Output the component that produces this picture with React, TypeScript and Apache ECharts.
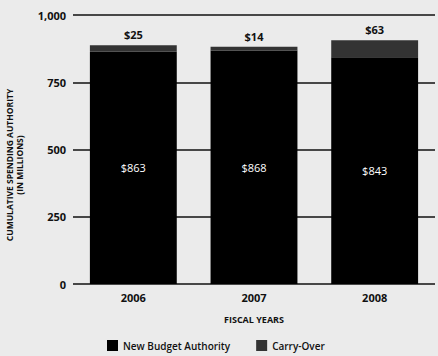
import React, { useEffect, useRef } from "react";
import * as echarts from "echarts";

const years = ["2006", "2007", "2008"];
const newBudget = [863, 868, 843];
const carryOver = [25, 14, 63];
const yTicks = [0, 250, 500, 750, 1000];

const FONT = "'Open Sans', 'Noto Sans', sans-serif";

export default function App() {
  const ref = useRef<HTMLDivElement>(null);
  useEffect(() => {
    if (!ref.current) return;
    const chart = echarts.init(ref.current, undefined, { renderer: "svg" });
    chart.setOption({
      animation: false,
      backgroundColor: "#ebebeb",
      textStyle: { fontFamily: FONT },
      grid: { left: 73, right: 3, top: 15, bottom: 72, containLabel: false },
      legend: {
        bottom: 0,
        left: 102,
        itemWidth: 11,
        itemHeight: 11,
        itemGap: 26,
        icon: "rect",
        textStyle: { fontFamily: FONT, fontSize: 10, fontWeight: 600, color: "#111" },
        data: ["New Budget Authority", "Carry-Over"],
      },
      graphic: [
        {
          type: "text",
          x: 14,
          y: 165,
          rotation: Math.PI / 2,
          style: {
            text: "CUMULATIVE SPENDING AUTHORITY\n(IN MILLIONS)",
            fontFamily: FONT,
            fontSize: 8.5,
            fontWeight: 700,
            fill: "#111",
            align: "center",
            verticalAlign: "middle",
            lineHeight: 10,
          },
        },
      ],
      xAxis: {
        type: "category",
        data: years,
        name: "FISCAL YEARS",
        nameLocation: "middle",
        nameGap: 31,
        nameTextStyle: { fontFamily: FONT, fontSize: 9, fontWeight: 700, color: "#111" },
        axisLine: { show: false },
        axisTick: { show: false },
        axisLabel: { fontFamily: FONT, fontSize: 11, fontWeight: 700, color: "#111", margin: 8 },
      },
      yAxis: {
        type: "value",
        min: 0,
        max: 1000,
        interval: 250,
        axisLine: { show: false },
        axisTick: { show: false },
        splitLine: { show: true, lineStyle: { color: "#111", width: 1.6 } },
        axisLabel: {
          fontFamily: FONT,
          fontSize: 11,
          fontWeight: 700,
          color: "#111",
          margin: 7,
          formatter: (v: number) => (yTicks.includes(v) ? v.toLocaleString("en-US") : ""),
        },
      },
      series: [
        {
          name: "New Budget Authority",
          type: "bar",
          stack: "total",
          barWidth: "72%",
          data: newBudget,
          itemStyle: { color: "#000" },
          label: {
            show: true,
            position: "inside",
            color: "#fff",
            fontFamily: FONT,
            fontSize: 11,
            formatter: (p: any) => "$" + p.value,
          },
        },
        {
          name: "Carry-Over",
          type: "bar",
          stack: "total",
          barWidth: "72%",
          data: carryOver,
          itemStyle: { color: "#333" },
          label: {
            show: true,
            position: "top",
            distance: 5,
            color: "#111",
            fontFamily: FONT,
            fontSize: 11,
            fontWeight: 700,
            formatter: (p: any) => "$" + p.value,
          },
        },
      ],
    });
    return () => chart.dispose();
  }, []);
  return <div ref={ref} style={{ width: 438, height: 356, position: "absolute", left: 0, top: 0 }} />;
}
